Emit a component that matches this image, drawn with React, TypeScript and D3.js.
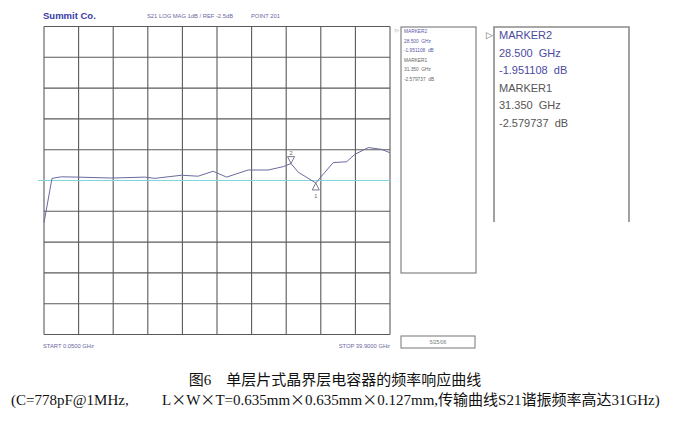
import React from "react";
import * as d3 from "d3";

const freqGHz = [0.05, 0.97, 2.06, 3.97, 7.82, 11.66, 12.81, 14.34, 15.89, 17.8, 19.53, 21.08, 23.56, 25.87, 27.6, 28.5, 29.33, 31.35, 32.41, 33.36, 34.91, 35.86, 37.4, 38.94, 39.9];
const s21dB = [-3.87, -2.43, -2.38, -2.39, -2.42, -2.39, -2.43, -2.38, -2.33, -2.36, -2.2, -2.39, -2.16, -2.16, -2.05, -1.95, -2.23, -2.58, -2.23, -1.92, -1.89, -1.65, -1.43, -1.49, -1.6];
const markers = [
  { id: "2", f: 28.5, v: -1.951108, dir: "down" },
  { id: "1", f: 31.35, v: -2.579737, dir: "up" },
];
const markerLines = ["MARKER2", "28.500  GHz", "-1.951108  dB", "MARKER1", "31.350  GHz", "-2.579737  dB"];
const refLevel = -2.5;
const xDomain = [0.05, 39.9];
const yDomain = [-7.5, 2.5];
const divisions = 10;
const captionTitle = "图6　单层片式晶界层电容器的频率响应曲线";
const captionPart1 = "(C=778pF@1MHz,";
const captionPart2 = ["L", "×", "W", "×", "T=0.635mm", "×", "0.635mm", "×", "0.127mm,传输曲线S21谐振频率高达31GHz)"];

export default function App() {
  const x = d3.scaleLinear().domain(xDomain).range([44, 390]);
  const y = d3.scaleLinear().domain(yDomain).range([334.5, 26.5]);
  const line = d3.line<number>().x((_, i) => x(freqGHz[i])).y((d) => y(d));
  const xt = d3.range(divisions + 1).map((i) => xDomain[0] + (i * (xDomain[1] - xDomain[0])) / divisions);
  const yt = d3.range(divisions + 1).map((i) => yDomain[0] + (i * (yDomain[1] - yDomain[0])) / divisions);
  const grid = "#5a5a5a";
  const serif = "Liberation Serif, Noto Sans CJK SC";
  return (
    <svg width={677} height={421} style={{ position: "absolute", left: 0, top: 0, background: "#fff" }}>
      <text x={43} y={19} fontFamily="Liberation Sans, Arial" fontSize={9.5} fontWeight="bold" fill="#3a3aa8">Summit Co.</text>
      <text x={147} y={18} fontFamily="Liberation Sans, Arial" fontSize={5.8} fill="#6868a0">S21  LOG MAG   1dB / REF -2.5dB</text>
      <text x={251} y={18} fontFamily="Liberation Sans, Arial" fontSize={5.8} fill="#6868a0">POINT 201</text>
      {xt.map((t, i) => (
        <line key={"x" + i} x1={x(t)} x2={x(t)} y1={y(yDomain[1])} y2={y(yDomain[0])} stroke={grid} strokeWidth={1.1} />
      ))}
      {yt.map((t, i) => (
        <line key={"y" + i} x1={x(xDomain[0])} x2={x(xDomain[1])} y1={y(t)} y2={y(t)} stroke={grid} strokeWidth={1.1} />
      ))}
      <line x1={38} x2={x(xDomain[1])} y1={y(refLevel)} y2={y(refLevel)} stroke="#7fd6de" strokeWidth={1.2} />
      <path d={line(s21dB) || ""} fill="none" stroke="#6a6aa0" strokeWidth={1} />
      {markers.map((m) => {
        const px = x(m.f);
        const py = y(m.v);
        const s = m.dir === "down" ? -1 : 1;
        const pts = [[px, py], [px - 3.5, py + s * 7], [px + 3.5, py + s * 7]].map((p) => p.join(",")).join(" ");
        return (
          <g key={m.id}>
            <polygon points={pts} fill="#fff" fillOpacity={0.6} stroke="#6a6a8a" strokeWidth={0.9} />
            <text x={px} y={m.dir === "down" ? py - 9 : py + 15} textAnchor="middle" fontFamily="Liberation Sans, Arial" fontSize={5.5} fill="#666">{m.id}</text>
          </g>
        );
      })}
      <text x={43} y={348} fontFamily="Liberation Sans, Arial" fontSize={5.8} fill="#6868a0">START 0.0500 GHz</text>
      <text x={390} y={348} textAnchor="end" fontFamily="Liberation Sans, Arial" fontSize={5.8} fill="#6868a0">STOP 39.9000 GHz</text>
      {/* small marker box */}
      <rect x={401} y={27} width={75} height={246} fill="none" stroke="#777" strokeWidth={1.1} />
      <text x={395} y={32} fontFamily="Liberation Sans, Arial" fontSize={5} fill="#777">▷</text>
      {markerLines.map((t, i) => (
        <text key={"s" + i} x={404} y={33 + i * 9.6} fontFamily="Liberation Sans, Arial" fontSize={4.8} fill={i < 3 ? "#5a5aa8" : "#666"} style={{ whiteSpace: "pre" }}>{t}</text>
      ))}
      <rect x={401} y={336} width={74} height={12} fill="none" stroke="#777" strokeWidth={1} />
      <text x={438} y={344} textAnchor="middle" fontFamily="Liberation Sans, Arial" fontSize={5} fill="#777">5/25/06</text>
      {/* big marker box */}
      <path d="M494,222 V27 H629 V222" fill="none" stroke="#8a8a8a" strokeWidth={1.6} />
      <text x={486} y={38} fontFamily="Liberation Sans, Arial" fontSize={9} fill="#666">▷</text>
      {markerLines.map((t, i) => (
        <text key={"b" + i} x={499} y={39 + i * 17.6} fontFamily="Liberation Sans, Arial" fontSize={11} fill={i < 3 ? "#4a4aa0" : "#555"} style={{ whiteSpace: "pre" }}>{t}</text>
      ))}
      <text x={335} y={385} textAnchor="middle" fontFamily={serif} fontSize={15} fill="#111" style={{ whiteSpace: "pre" }}>{captionTitle}</text>
      <text x={11} y={405} fontFamily={serif} fontSize={15} fill="#111" style={{ whiteSpace: "pre" }}>{captionPart1}</text>
      <text x={162} y={405} fontFamily={serif} fontSize={15} fill="#111" style={{ whiteSpace: "pre" }}>
        {captionPart2.map((s, i) => (
          <tspan key={i} fontFamily={s === "×" ? "Noto Sans CJK SC" : serif}>{s}</tspan>
        ))}
      </text>
    </svg>
  );
}
